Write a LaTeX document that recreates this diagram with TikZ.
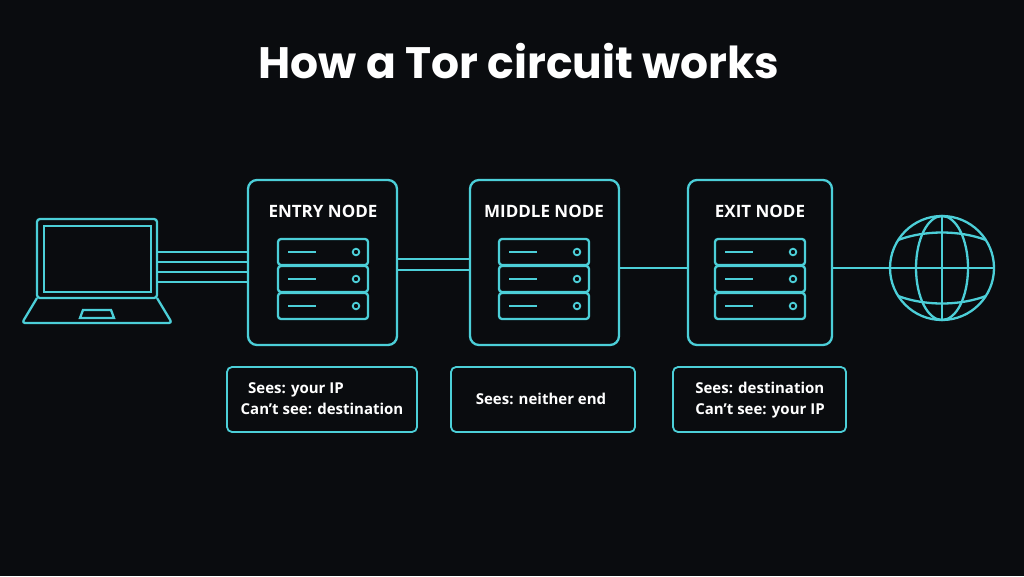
\documentclass[tikz,border=0pt]{standalone}
\usepackage{fontspec}
\setmainfont{Open Sans}
\newfontfamily\titlefont{Poppins}
\definecolor{bg}{HTML}{0A0C0F}
\definecolor{cy}{HTML}{4CCFD8}
\begin{document}
\begin{tikzpicture}[x=1pt,y=-1pt,
  ln/.style={draw=cy,line width=2.3pt},
  box/.style={ln,rounded corners=9pt},
  lbl/.style={text=white,font=\fontsize{17}{20}\selectfont\bfseries},
  info/.style={text=white,font=\fontsize{15}{21}\selectfont\bfseries,align=left}]
\fill[bg] (0,0) rectangle (1024,576);
\useasboundingbox (0,0) rectangle (1024,576);
\node[text=white,font=\titlefont\fontsize{44}{48}\selectfont\bfseries] (title) at (519,61) {How a Tor circuit works};
% laptop
\draw[ln,rounded corners=3pt] (37,219) rectangle (157,298);
\draw[ln] (44,226) rectangle (151,292);
\draw[ln,rounded corners=3pt,line join=round] (37,298) -- (22,323) -- (172,323) -- (157,298);
\draw[ln] (83,310) -- (111,310) -- (114,318) -- (80,318) -- cycle;
\coordinate (lap) at (157,268);
% boxes
\newcommand\srv[2]{%
  \foreach \k in {0,1,2}{
    \draw[ln,rounded corners=3pt] (#1-45,{#2+\k*27}) rectangle (#1+45,{#2+26+\k*27});
    \draw[ln] (#1-35,{#2+13+\k*27}) -- (#1-7,{#2+13+\k*27});
    \draw[ln,line width=1.8pt] (#1+33,{#2+13+\k*27}) circle (3.3);
  }}
\draw[box] (248,180) rectangle (397,345);
\node[lbl] (entry) at (323,211) {ENTRY NODE};
\srv{323}{239}
\draw[box] (470,180) rectangle (619,345);
\node[lbl] (middle) at (544,211) {MIDDLE NODE};
\srv{544}{239}
\draw[box] (688,180) rectangle (832,345);
\node[lbl] (exit) at (760,211) {EXIT NODE};
\srv{760}{239}
% connectors
\foreach \y in {252,262,272,282}{\draw[ln,line width=2pt] (157,\y) -- (248,\y);}
\foreach \y in {259,270}{\draw[ln,line width=2pt] (397,\y) -- (470,\y);}
\draw[ln] (619,268) -- (688,268);
\draw[ln] (832,268) -- (890,268);
% globe
\draw[ln] (942,268) circle (52);
\draw[ln] (942,268) ellipse (26 and 52);
\draw[ln] (942,216) -- (942,320);
\draw[ln] (890,268) -- (994,268);
\draw[ln] (898,240) .. controls (925,230) and (959,230) .. (986,240);
\draw[ln] (898,296) .. controls (925,306) and (959,306) .. (986,296);
% info boxes
\draw[box,line width=1.8pt,rounded corners=5pt] (227,367) rectangle (417,432);
\node[info] (i1) at (322,399) {\hspace*{0.5em}Sees: your IP\\Can't see: destination};
\draw[box,line width=1.8pt,rounded corners=5pt] (451,367) rectangle (635,432);
\node[info] (i2) at (541,399) {Sees: neither end};
\draw[box,line width=1.8pt,rounded corners=5pt] (673,367) rectangle (846,432);
\node[info] (i3) at (760,400) {Sees: destination\\Can't see: your IP};
\end{tikzpicture}
\end{document}
